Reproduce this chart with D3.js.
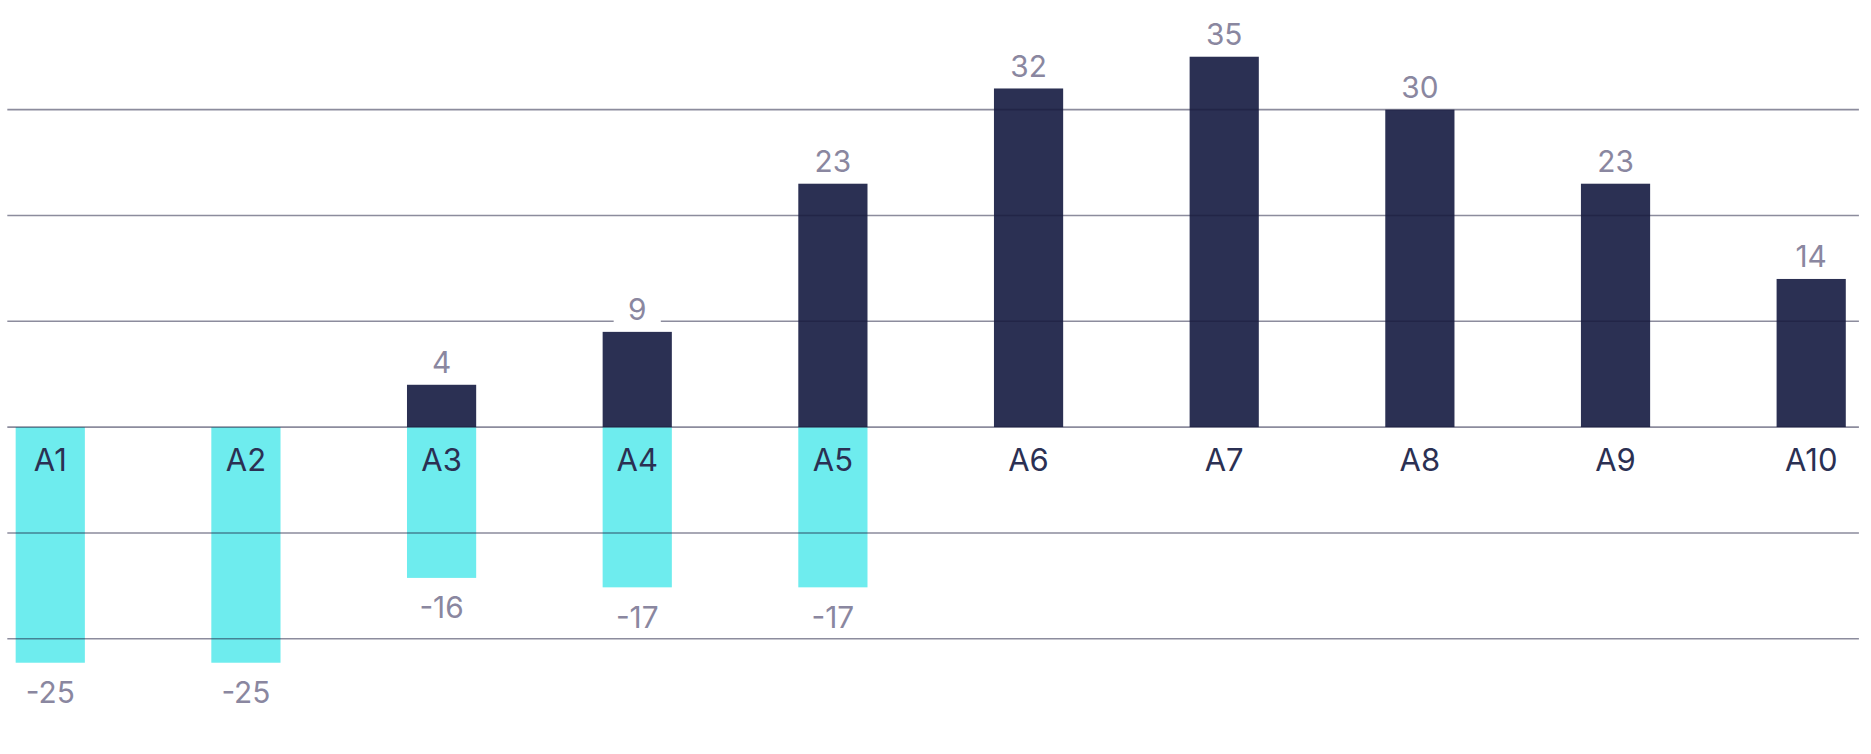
<!DOCTYPE html>
<html><head><meta charset="utf-8">
<script src="https://cdn.jsdelivr.net/npm/d3@7"></script>
<style>html,body{margin:0;padding:0;background:#fff}svg{display:block}</style>
</head><body>
<script>
const categories = ["A1","A2","A3","A4","A5","A6","A7","A8","A9","A10"];
const positives = [null,null,4,9,23,32,35,30,23,14];
const negatives = [-25,-25,-16,-17,-17,null,null,null,null,null];
const gridTicks = [-20,-10,0,10,20,30];

const W=1568,H=632;
const svg=d3.select("body").append("svg").attr("width",1871).attr("height",754).attr("viewBox",`0 0 ${W} ${H}`);
const x=d3.scalePoint().domain(categories).range([42,1518]);
const bw=58;
const y=d3.scaleLinear().domain([0,10]).range([358,269.3]);
const yNeg=d3.scaleLinear().domain([0,-10]).range([358,437]);
const font="Inter, 'Noto Sans', sans-serif";

svg.selectAll(".pos").data(categories.filter((c,i)=>positives[i]!=null)).join("rect")
 .attr("x",c=>x(c)-bw/2).attr("width",bw)
 .attr("y",c=>y(positives[categories.indexOf(c)])).attr("height",c=>y(0)-y(positives[categories.indexOf(c)]))
 .attr("fill","#2b3053");
svg.selectAll(".neg").data(categories.filter((c,i)=>negatives[i]!=null)).join("rect")
 .attr("x",c=>x(c)-bw/2).attr("width",bw)
 .attr("y",y(0)).attr("height",c=>yNeg(negatives[categories.indexOf(c)])-y(0))
 .attr("fill","#6eecee");

svg.selectAll(".grid").data(gridTicks).join("line")
 .attr("x1",6).attr("x2",1558).attr("y1",d=>y(d)).attr("y2",d=>y(d))
 .attr("stroke","rgba(25,25,60,0.5)").attr("stroke-width",1.3);

categories.forEach((c,i)=>{
  const v=positives[i]; if(v==null) return;
  const g=svg.append("g");
  const t=g.append("text").attr("x",x(c)).attr("y",y(v)-10).attr("text-anchor","middle")
   .attr("font-family",font).attr("font-size",25).attr("fill","#8a87a0").text(v);
  const b=t.node().getBBox();
  g.insert("rect","text").attr("x",b.x-12).attr("y",b.y).attr("width",b.width+24).attr("height",b.height).attr("fill","#fff");
});
categories.forEach((c,i)=>{
  const v=negatives[i]; if(v==null) return;
  svg.append("text").attr("x",x(c)).attr("y",yNeg(v)+34).attr("text-anchor","middle")
   .attr("font-family",font).attr("font-size",25).attr("fill","#8a87a0").text("-"+Math.abs(v));
});
svg.selectAll(".cat").data(categories).join("text")
 .attr("x",c=>x(c)).attr("y",395).attr("text-anchor","middle")
 .attr("font-family",font).attr("font-size",26).attr("fill","#2b3053").text(d=>d);
</script>
</body></html>
